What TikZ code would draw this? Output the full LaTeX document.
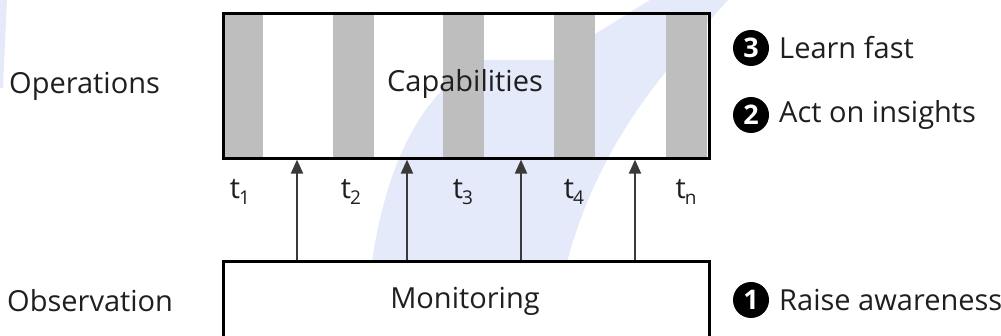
\documentclass[tikz,border=0pt]{standalone}
\usepackage{fontspec}
\setmainfont{Open Sans}
\usetikzlibrary{arrows.meta}
\definecolor{wm}{HTML}{E4EAFA}
\definecolor{stripe}{HTML}{BEBEBE}
\definecolor{arrowc}{HTML}{3A3A3A}
\tikzset{
  lbl/.style={font=\fontsize{29}{34}\selectfont, text=black!88, inner sep=0pt},
  boxframe/.style={draw=black, line width=2.6pt, inner sep=0pt},
  upar/.style={draw=arrowc, line width=2pt, -{Triangle[length=14pt,width=12pt]}},
  numdot/.style={circle, fill=black, text=white, inner sep=0pt, minimum size=36pt,
    font=\fontsize{27}{30}\selectfont\bfseries},
}
\newcommand{\tsub}[1]{\kern-1pt\raisebox{-0.2em}{\fontsize{19}{20}\selectfont #1}}
\begin{document}
\begin{tikzpicture}[x=1pt,y=-1pt]
\useasboundingbox (0,0) rectangle (1001,336);
\clip (0,0) rectangle (1001,336);
% watermark
\fill[wm] (372,262) .. controls (385,170) and (420,90) .. (483,60) -- (553,60) -- (650,0) -- (728,0)
  .. controls (665,70) and (600,140) .. (567,262) -- cycle;
\fill[wm] (0,0) -- (7,0) -- (3,88) -- (0,88) -- cycle;
% stripes of the top box
\foreach \sx in {222,333,443,554,666}{
  \fill[stripe] (\sx,12) rectangle ++(41,145);
}
\node[boxframe, minimum width=486pt, minimum height=145pt, anchor=north west] (cap) at (222,12) {};
\node[lbl] (captxt) at (465,84) {Capabilities};
% bottom box
\node[boxframe, fill=white, minimum width=486pt, minimum height=100pt, anchor=north west] (mon) at (222,260) {};
\node[lbl] (montxt) at (465,301) {Monitoring};
% arrows
\foreach \ax [count=\i] in {297,407,521,635}{
  \coordinate (a\i) at (\ax,200);
  \draw[upar] (a\i |- mon.north) -- (a\i |- cap.south);
}
% time labels
\node[lbl] (t1) at (240,192) {t\tsub{1}};
\node[lbl] (t2) at (351,192) {t\tsub{2}};
\node[lbl] (t3) at (463,192) {t\tsub{3}};
\node[lbl] (t4) at (574,192) {t\tsub{4}};
\node[lbl] (tn) at (686,192) {t\tsub{n}};
% left labels
\node[lbl, anchor=west] (ops) at (9,86) {Operations};
\node[lbl, anchor=west] (obs) at (7,301) {Observation};
% right legend
\node[numdot] (n3) at (751,48) {3};
\node[lbl, anchor=west] (l3) at (779,48) {Learn fast};
\node[numdot] (n2) at (751,115) {2};
\node[lbl, anchor=west] (l2) at (779,115) {Act on insights};
\node[numdot] (n1) at (751,300) {1};
\node[lbl, anchor=west] (l1) at (779,300) {Raise awareness};
\end{tikzpicture}
\end{document}
